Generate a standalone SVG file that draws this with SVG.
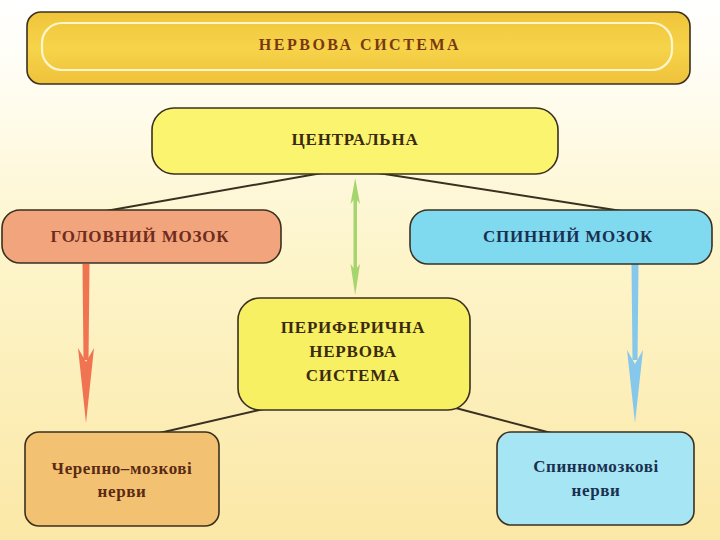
<svg xmlns="http://www.w3.org/2000/svg" width="720" height="540" viewBox="0 0 720 540">
<defs>
<linearGradient id="bg" x1="0" y1="0" x2="0" y2="1">
<stop offset="0" stop-color="#ffffff"/>
<stop offset="0.15" stop-color="#fffdf2"/>
<stop offset="0.45" stop-color="#fdf5cc"/>
<stop offset="1" stop-color="#fbe8a6"/>
</linearGradient>
<linearGradient id="gold" x1="0" y1="0" x2="0" y2="1">
<stop offset="0" stop-color="#f0c43a"/>
<stop offset="0.5" stop-color="#f6d44a"/>
<stop offset="1" stop-color="#efc23a"/>
</linearGradient>
<style>
.box{stroke:#3a3020;stroke-width:1.6}
.cap{font-family:"Liberation Serif",serif;font-weight:bold;font-size:17px;letter-spacing:0.8px;text-anchor:middle;dominant-baseline:middle}
.low{font-family:"Liberation Serif",serif;font-weight:bold;font-size:17px;letter-spacing:0.6px;text-anchor:middle;dominant-baseline:middle}
.con{stroke:#3a3020;stroke-width:2;fill:none}
</style>
</defs>
<rect width="720" height="540" fill="url(#bg)"/>

<g id="title">
<rect x="27" y="12" width="663" height="72" rx="14" fill="url(#gold)" class="box"/>
<rect x="42" y="23" width="630" height="47" rx="20" fill="none" stroke="#fff6cc" stroke-width="2.2"/>
<text x="360" y="46" class="cap" fill="#7a3812" style="font-size:16px;letter-spacing:2.5px">НЕРВОВА СИСТЕМА</text>
</g>

<g id="connectors">
<line x1="322" y1="173" x2="100" y2="212" class="con"/>
<line x1="378" y1="173" x2="628" y2="212" class="con"/>
<line x1="268" y1="408" x2="155" y2="434" class="con"/>
<line x1="448" y1="406" x2="555" y2="434" class="con"/>
<g fill="#f07452">
<path d="M82.5,264 L89.5,264 L88.5,360 L83.5,360 Z"/>
<path d="M78,348 L86,362 L94,348 L86,423 Z"/>
</g>
<g fill="#86c8ec">
<path d="M631.5,264 L638.5,264 L637.5,360 L632.5,360 Z"/>
<path d="M627,350 L635,364 L643,350 L635,423 Z"/>
</g>
<g fill="#a6d46e">
<rect x="353.5" y="190" width="3.5" height="90"/>
<path d="M350.5,204 L355.2,178 L360,204 L355.2,198 Z"/>
<path d="M350.5,264 L355.2,295 L360,264 L355.2,270 Z"/>
</g>
</g>

<g id="central">
<rect x="152" y="108" width="406" height="66" rx="22" fill="#fbf46e" class="box"/>
<text x="355" y="141" class="cap" fill="#3a2a10">ЦЕНТРАЛЬНА</text>
</g>

<g id="brain">
<rect x="2" y="210" width="279" height="53" rx="18" fill="#f2a47c" class="box"/>
<text x="140" y="238" class="cap" fill="#6e2c1c">ГОЛОВНИЙ МОЗОК</text>
</g>

<g id="spinal">
<rect x="410" y="210" width="302" height="54" rx="18" fill="#7fdaf0" class="box"/>
<text x="568" y="238" class="cap" fill="#1a3050">СПИННИЙ МОЗОК</text>
</g>

<g id="peripheral">
<rect x="238" y="298" width="232" height="112" rx="22" fill="#f7f062" class="box"/>
<text x="353" y="329" class="cap" fill="#3a2a10">ПЕРИФЕРИЧНА</text>
<text x="353" y="353" class="cap" fill="#3a2a10">НЕРВОВА</text>
<text x="353" y="377" class="cap" fill="#3a2a10">СИСТЕМА</text>
</g>

<g id="cranial">
<rect x="25" y="432" width="194" height="94" rx="14" fill="#f2c272" class="box"/>
<text x="122" y="470" class="low" fill="#5a2a14">Черепно–мозкові</text>
<text x="122" y="493" class="low" fill="#5a2a14">нерви</text>
</g>

<g id="spinalnerves">
<rect x="497" y="432" width="197" height="93" rx="14" fill="#a6e6f4" class="box"/>
<text x="596" y="468" class="low" fill="#1a3050">Спинномозкові</text>
<text x="596" y="492" class="low" fill="#1a3050">нерви</text>
</g>
</svg>
